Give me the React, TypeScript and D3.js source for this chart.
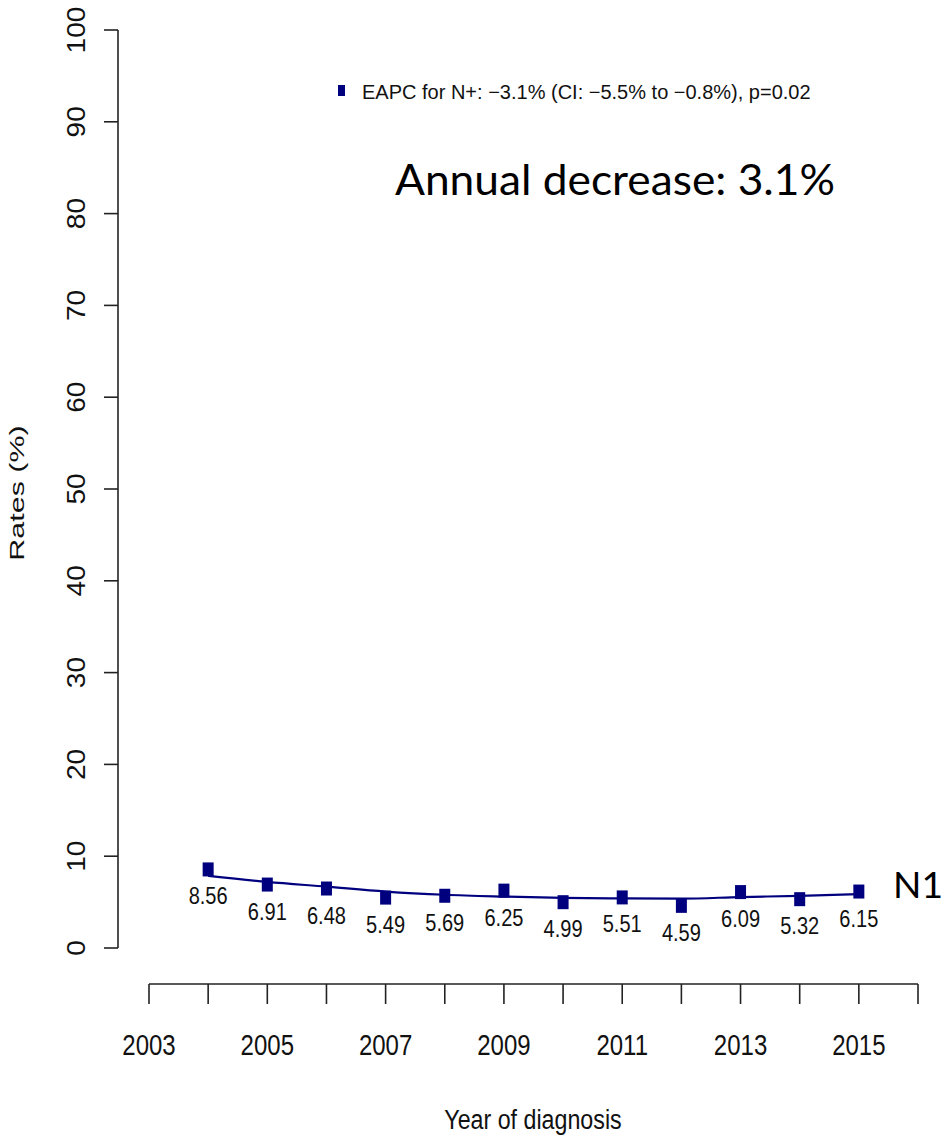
import React from "react";
import * as d3 from "d3";

const years = [2004, 2005, 2006, 2007, 2008, 2009, 2010, 2011, 2012, 2013, 2014, 2015];
const rates = [8.56, 6.91, 6.48, 5.49, 5.69, 6.25, 4.99, 5.51, 4.59, 6.09, 5.32, 6.15];
const fitted = [7.85, 7.2, 6.68, 6.15, 5.8, 5.6, 5.45, 5.4, 5.38, 5.55, 5.68, 5.88];
const xTicks = [2003, 2004, 2005, 2006, 2007, 2008, 2009, 2010, 2011, 2012, 2013, 2014, 2015, 2016];
const xTickLabels = [2003, 2005, 2007, 2009, 2011, 2013, 2015];
const yTicks = [0, 10, 20, 30, 40, 50, 60, 70, 80, 90, 100];
const legendText = "EAPC for N+: \u22123.1% (CI: \u22125.5% to \u22120.8%), p=0.02";
const annotation = "Annual decrease: 3.1%";
const seriesLabel = "N1";

const W = 945;
const H = 1139;
const NAVY = "#00007f";
const ARIAL = "'Liberation Sans', Arial, Helvetica, sans-serif";
const CAL = "Lato, 'Open Sans', sans-serif";

export default function App() {
  const x = d3.scaleLinear().domain([2003, 2016]).range([149, 918]);
  const y = d3.scaleLinear().domain([0, 100]).range([948, 30]);
  const line = d3
    .line<number>()
    .x((_, i) => x(years[i]))
    .y((d) => y(d))
    .curve(d3.curveMonotoneX);

  return (
    <svg
      width={W}
      height={H}
      style={{ position: "absolute", left: 0, top: 0, background: "#fff" }}
    >
      {/* Y axis */}
      <line x1={118} x2={118} y1={y(0)} y2={y(100)} stroke="#222" strokeWidth={1.6} />
      {yTicks.map((t) => (
        <g key={t}>
          <line x1={104} x2={118} y1={y(t)} y2={y(t)} stroke="#222" strokeWidth={1.6} />
          <text
            transform={`translate(85,${y(t)}) rotate(-90) scale(1.1,1)`}
            textAnchor="middle"
            fontFamily={ARIAL}
            fontSize={25.5}
            fill="#111"
          >
            {t}
          </text>
        </g>
      ))}
      <text
        transform={`translate(24,493) rotate(-90) scale(1.45,1)`}
        textAnchor="middle"
        fontFamily={ARIAL}
        fontSize={21}
        fill="#111"
      >
        Rates (%)
      </text>

      {/* X axis */}
      <line x1={x(2003)} x2={x(2016)} y1={984} y2={984} stroke="#222" strokeWidth={1.6} />
      {xTicks.map((t) => (
        <line key={t} x1={x(t)} x2={x(t)} y1={984} y2={1004} stroke="#222" strokeWidth={1.6} />
      ))}
      {xTickLabels.map((t) => (
        <text
          key={t}
          transform={`translate(${x(t)},1055) scale(0.8,1)`}
          textAnchor="middle"
          fontFamily={ARIAL}
          fontSize={30}
          fill="#111"
        >
          {t}
        </text>
      ))}
      <text
        transform={`translate(533,1129) scale(0.83,1)`}
        textAnchor="middle"
        fontFamily={ARIAL}
        fontSize={28}
        fill="#111"
      >
        Year of diagnosis
      </text>

      {/* Fitted line */}
      <path d={line(fitted) || ""} fill="none" stroke={NAVY} strokeWidth={2.2} />

      {/* Points */}
      {rates.map((r, i) => (
        <rect
          key={years[i]}
          x={x(years[i]) - 5.5}
          y={y(r) - 7}
          width={11}
          height={14}
          fill={NAVY}
        />
      ))}
      {rates.map((r, i) => (
        <text
          key={"l" + years[i]}
          transform={`translate(${x(years[i])},${y(r) + 35}) scale(0.86,1)`}
          textAnchor="middle"
          fontFamily={ARIAL}
          fontSize={23.3}
          fill="#111"
        >
          {r.toFixed(2)}
        </text>
      ))}

      {/* Legend */}
      <rect x={338} y={85} width={7} height={11} fill={NAVY} />
      <text x={362} y={99} fontFamily={ARIAL} fontSize={20} fill="#111">
        {legendText}
      </text>

      {/* Annotations */}
      <text
        x={395}
        y={195}
        fontFamily={CAL}
        fontSize={42}
        textLength={440}
        lengthAdjust="spacingAndGlyphs"
        fill="#000"
      >
        {annotation}
      </text>
      <text
        x={893}
        y={898}
        fontFamily={CAL}
        fontSize={37}
        textLength={50}
        lengthAdjust="spacingAndGlyphs"
        fill="#000"
      >
        {seriesLabel}
      </text>
    </svg>
  );
}
